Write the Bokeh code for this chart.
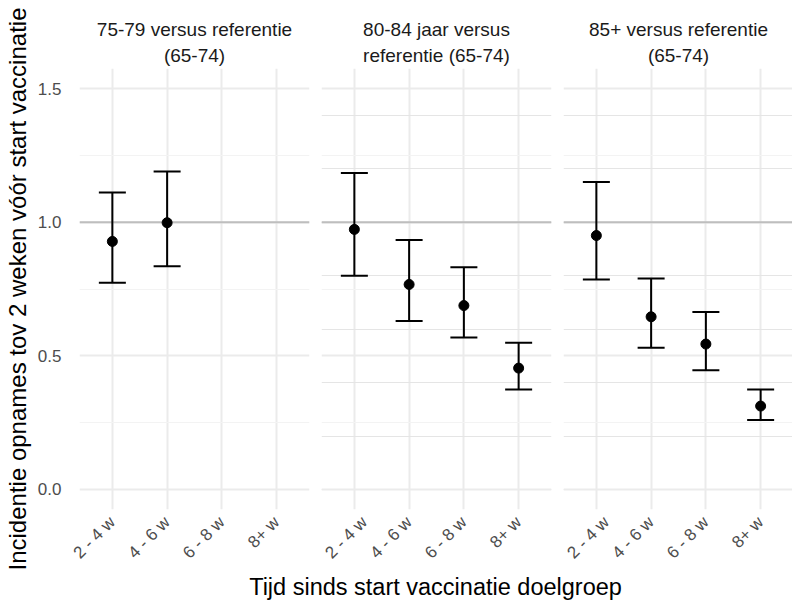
import math
from bokeh.plotting import figure
from bokeh.layouts import row, column
from bokeh.models import (FactorRange, Range1d, FixedTicker, Grid, Whisker, TeeHead,
                          ColumnDataSource, Span, NumeralTickFormatter, Title, Label)
from bokeh.embed import file_html
from bokeh.resources import INLINE

# ---------------- data ----------------
weeks = ["2 - 4 w", "4 - 6 w", "6 - 8 w", "8+ w"]
panel_title_line1 = ["75-79 versus referentie", "80-84 jaar versus", "85+ versus referentie"]
panel_title_line2 = ["(65-74)", "referentie (65-74)", "(65-74)"]

p1_weeks = ["2 - 4 w", "4 - 6 w"]
p1_est = [0.928, 0.998]
p1_lo = [0.773, 0.835]
p1_hi = [1.111, 1.190]

p2_weeks = ["2 - 4 w", "4 - 6 w", "6 - 8 w", "8+ w"]
p2_est = [0.973, 0.767, 0.688, 0.454]
p2_lo = [0.800, 0.630, 0.569, 0.374]
p2_hi = [1.184, 0.933, 0.831, 0.549]

p3_weeks = ["2 - 4 w", "4 - 6 w", "6 - 8 w", "8+ w"]
p3_est = [0.950, 0.646, 0.544, 0.312]
p3_lo = [0.786, 0.530, 0.446, 0.260]
p3_hi = [1.150, 0.789, 0.664, 0.374]

reference_value = 1.0
y_ticks = [0.0, 0.5, 1.0, 1.5]
y_minor_ticks = [0.25, 0.75, 1.25]

y_title = "Incidentie opnames tov 2 weken vóór start vaccinatie"
x_title = "Tijd sinds start vaccinatie doelgroep"

# ---------------- styling ----------------
FONT = "Liberation Sans"
GRID = "#EBEBEB"
MINOR = "#F3F3F3"
FRAME_W = 230
FRAME_H = 441
GAP = 12
LEFT = 70

panels = [
    (p1_weeks, p1_est, p1_lo, p1_hi),
    (p2_weeks, p2_est, p2_lo, p2_hi),
    (p3_weeks, p3_est, p3_lo, p3_hi),
]

figs = []
for i, (wk, est, lo, hi) in enumerate(panels):
    first = i == 0
    p = figure(
        x_range=FactorRange(factors=weeks, range_padding=0.1, range_padding_units="absolute"),
        y_range=Range1d(-0.075, 1.575),
        frame_width=FRAME_W, frame_height=FRAME_H,
        output_backend="svg", toolbar_location=None, title=None,
        y_axis_location="left" if first else None,
        min_border_left=LEFT if first else 0,
        min_border_right=GAP if i < 2 else 0,
        min_border_top=0, min_border_bottom=0,
    )
    p.outline_line_color = None
    p.background_fill_color = "white"
    p.border_fill_color = "white"

    # strip titles: line 2 nearest to the panel, then line 1, then a spacer
    for txt, size, so in ((panel_title_line2[i], "19px", 6),
                          (panel_title_line1[i], "19px", 0),
                          (" ", "12px", 0)):
        t = Title(text=txt, align="center", text_font=FONT, text_font_size=size,
                  text_font_style="normal", text_color="#1A1A1A", standoff=so,
                  text_line_height=0.9)
        p.add_layout(t, "above")

    xa = p.xaxis[0]
    xa.major_label_orientation = math.pi / 4
    xa.major_label_text_font = FONT
    xa.major_label_text_font_size = "17px"
    xa.major_label_text_color = "#4D4D4D"
    xa.major_tick_line_color = None
    xa.minor_tick_line_color = None
    xa.axis_line_color = None
    xa.major_label_standoff = 4

    p.xgrid.grid_line_color = GRID
    p.xgrid.grid_line_width = 2

    ticker = FixedTicker(ticks=y_ticks, minor_ticks=y_minor_ticks)
    if first:
        ya = p.yaxis[0]
        ya.ticker = ticker
        ya.formatter = NumeralTickFormatter(format="0.0")
        ya.major_label_text_font = FONT
        ya.major_label_text_font_size = "17px"
        ya.major_label_text_color = "#4D4D4D"
        ya.major_tick_line_color = None
        ya.minor_tick_line_color = None
        ya.axis_line_color = None
        ya.major_label_standoff = 12
        ya.axis_label = y_title
        ya.axis_label_text_font = FONT
        ya.axis_label_text_font_size = "24px"
        ya.axis_label_text_font_style = "normal"
        ya.axis_label_text_color = "black"
        ya.axis_label_standoff = 4
        yg = p.ygrid[0]
    else:
        yg = Grid(dimension=1, ticker=ticker)
        p.add_layout(yg)
    yg.grid_line_color = GRID
    yg.grid_line_width = 2
    yg.minor_grid_line_color = MINOR
    yg.minor_grid_line_width = 1

    ref = Span(location=reference_value, dimension="width",
               line_color="#BEBEBE", line_width=2, level="underlay")
    p.add_layout(ref)

    src = ColumnDataSource(dict(x=wk, est=est, lo=lo, hi=hi))
    w = Whisker(base="x", lower="lo", upper="hi", source=src, dimension="height",
                line_color="black", line_width=2,
                upper_head=TeeHead(size=27, line_color="black", line_width=2),
                lower_head=TeeHead(size=27, line_color="black", line_width=2))
    p.add_layout(w)
    p.scatter(x="x", y="est", source=src, size=10, color="black")
    figs.append(p)

# x-axis title spanning all panels
TITLE_W = LEFT + 3 * FRAME_W + 2 * GAP
TITLE_H = 30
tp = figure(width=TITLE_W, height=TITLE_H, output_backend="svg", toolbar_location=None,
            title=None, x_range=Range1d(0, TITLE_W), y_range=Range1d(0, TITLE_H),
            x_axis_location=None, y_axis_location=None, min_border=0)
tp.outline_line_color = None
tp.grid.visible = False
tp.background_fill_color = "white"
tp.border_fill_color = "white"
tp.add_layout(Label(x=LEFT + 8 + (3 * FRAME_W + 2 * GAP) / 2, y=TITLE_H / 2 + 1,
                    text=x_title, text_align="center", text_baseline="middle",
                    text_font=FONT, text_font_size="23.5px", text_color="black"))

layout = column(row(*figs), tp)
open("out.html", "w").write(file_html(layout, INLINE))
